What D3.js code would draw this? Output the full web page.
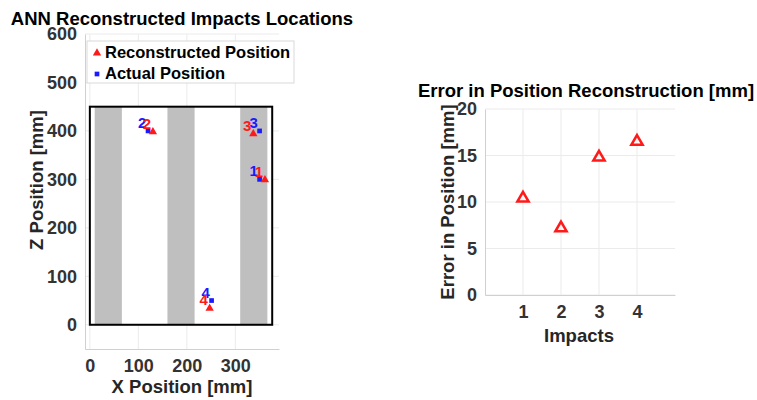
<!DOCTYPE html>
<html>
<head>
<meta charset="utf-8">
<script src="https://cdn.jsdelivr.net/npm/d3@7"></script>
<style>
  body { margin: 0; background: #fff; }
  svg { font-family: "Liberation Sans", Arial, sans-serif; font-weight: bold; }
  .tick text { fill: #333; font-size: 18px; font-weight: bold; }
</style>
</head>
<body>
<svg id="chart" width="757" height="400"></svg>
<script>
// impact data (mm)
const impacts = [1, 2, 3, 4];
const actualX = [350, 120, 350, 251];
const actualZ = [300, 400, 400, 50];
const reconX = [361, 130, 337, 247];
const reconZ = [299, 398, 394, 34];
const errors = [10.4, 7.2, 14.8, 16.5];
// plate outline and the grey strips on it
const plateX = [0, 376];
const plateZ = [0, 450];
const stripX = [[10, 66], [160, 216], [310, 366]];
const xTicksL = [0, 100, 200, 300];
const zTicks = [0, 100, 200, 300, 400, 500, 600];
const errTicks = [0, 5, 10, 15, 20];

const svg = d3.select('#chart');
const red = '#ff1a1a', blue = '#1a1aff', grid = '#ebebeb', axisCol = '#d0d0d0';

//---- left plot: impact locations
const xL = d3.scaleLinear().domain([-10, 390]).range([85, 279]);
const yL = d3.scaleLinear().domain([-50, 600]).range([349, 34]);

const gL = svg.append('g');
// grid
gL.selectAll('.gx').data(xTicksL).enter().append('line')
  .attr('x1', d => xL(d)).attr('x2', d => xL(d))
  .attr('y1', yL(-50)).attr('y2', yL(600))
  .attr('stroke', grid);
gL.selectAll('.gy').data(zTicks).enter().append('line')
  .attr('x1', xL(-10)).attr('x2', xL(390))
  .attr('y1', d => yL(d)).attr('y2', d => yL(d))
  .attr('stroke', grid);

// plate
gL.append('rect')
  .attr('x', xL(plateX[0])).attr('y', yL(plateZ[1]))
  .attr('width', xL(plateX[1]) - xL(plateX[0]))
  .attr('height', yL(plateZ[0]) - yL(plateZ[1]))
  .attr('fill', '#fff');
gL.selectAll('.strip').data(stripX).enter().append('rect')
  .attr('x', d => xL(d[0])).attr('y', yL(plateZ[1]))
  .attr('width', d => xL(d[1]) - xL(d[0]))
  .attr('height', yL(plateZ[0]) - yL(plateZ[1]))
  .attr('fill', '#bfbfbf');
gL.append('rect')
  .attr('x', xL(plateX[0])).attr('y', yL(plateZ[1]))
  .attr('width', xL(plateX[1]) - xL(plateX[0]))
  .attr('height', yL(plateZ[0]) - yL(plateZ[1]))
  .attr('fill', 'none').attr('stroke', '#000').attr('stroke-width', 2);

// axes
const axL = gL.append('g').attr('transform', `translate(0,${yL(-50)})`)
  .call(d3.axisBottom(xL).tickValues(xTicksL).tickSize(0).tickPadding(10));
const ayL = gL.append('g').attr('transform', `translate(${xL(-10)},0)`)
  .call(d3.axisLeft(yL).tickValues(zTicks).tickSize(0).tickPadding(8));
[axL, ayL].forEach(a => a.select('.domain').attr('stroke', axisCol));

// markers
const triSmall = d3.symbol(d3.symbolTriangle, 30);
const sqSmall = d3.symbol(d3.symbolSquare, 22);
gL.selectAll('.act').data(impacts).enter().append('path')
  .attr('d', sqSmall)
  .attr('transform', (d, i) => `translate(${xL(actualX[i])},${yL(actualZ[i])})`)
  .attr('fill', blue);
gL.selectAll('.rec').data(impacts).enter().append('path')
  .attr('d', triSmall)
  .attr('transform', (d, i) => `translate(${xL(reconX[i])},${yL(reconZ[i])})`)
  .attr('fill', red);
gL.selectAll('.actLbl').data(impacts).enter().append('text')
  .attr('x', (d, i) => xL(actualX[i]) - 6).attr('y', (d, i) => yL(actualZ[i]) - 3)
  .attr('text-anchor', 'middle').attr('font-size', 15).attr('fill', blue)
  .text(d => d);
gL.selectAll('.recLbl').data(impacts).enter().append('text')
  .attr('x', (d, i) => xL(reconX[i]) - 6).attr('y', (d, i) => yL(reconZ[i]) - 3)
  .attr('text-anchor', 'middle').attr('font-size', 15).attr('fill', red)
  .text(d => d);

// legend
const leg = gL.append('g');
leg.append('rect').attr('x', 87).attr('y', 41).attr('width', 207).attr('height', 42)
  .attr('fill', '#fff').attr('stroke', '#d9d9d9');
leg.append('path').attr('d', triSmall).attr('transform', 'translate(97,53)').attr('fill', red);
leg.append('path').attr('d', sqSmall).attr('transform', 'translate(97,74)').attr('fill', blue);
leg.append('text').attr('x', 105).attr('y', 58).attr('font-size', 16.5).attr('fill', '#000')
  .text('Reconstructed Position');
leg.append('text').attr('x', 105).attr('y', 79).attr('font-size', 16.5).attr('fill', '#000')
  .text('Actual Position');

// titles
gL.append('text').attr('x', 182).attr('y', 25).attr('text-anchor', 'middle')
  .attr('font-size', 18.5).attr('fill', '#000').text('ANN Reconstructed Impacts Locations');
gL.append('text').attr('x', 182).attr('y', 393).attr('text-anchor', 'middle')
  .attr('font-size', 18.5).attr('fill', '#262626').text('X Position [mm]');
gL.append('text').attr('transform', 'translate(43,180) rotate(-90)').attr('text-anchor', 'middle')
  .attr('font-size', 18.5).attr('fill', '#262626').text('Z Position [mm]');

//---- right plot: error
const xR = d3.scaleLinear().domain([0, 5]).range([485, 675]);
const yR = d3.scaleLinear().domain([0, 20]).range([295, 109]);
const gR = svg.append('g');
gR.selectAll('.gx').data(impacts).enter().append('line')
  .attr('x1', d => xR(d)).attr('x2', d => xR(d))
  .attr('y1', yR(0)).attr('y2', yR(20)).attr('stroke', grid);
gR.selectAll('.gy').data(errTicks).enter().append('line')
  .attr('x1', xR(0)).attr('x2', xR(5))
  .attr('y1', d => yR(d)).attr('y2', d => yR(d)).attr('stroke', grid);
const axR = gR.append('g').attr('transform', `translate(0,${yR(0)})`)
  .call(d3.axisBottom(xR).tickValues(impacts).tickFormat(d3.format('d')).tickSize(0).tickPadding(10));
const ayR = gR.append('g').attr('transform', `translate(${xR(0)},0)`)
  .call(d3.axisLeft(yR).tickValues(errTicks).tickSize(0).tickPadding(8));
[axR, ayR].forEach(a => a.select('.domain').attr('stroke', axisCol));

gR.selectAll('.err').data(errors).enter().append('path')
  .attr('d', d3.symbol(d3.symbolTriangle, 55))
  .attr('transform', (d, i) => `translate(${xR(impacts[i])},${yR(d)})`)
  .attr('fill', 'none').attr('stroke', red).attr('stroke-width', 2.5);

gR.append('text').attr('x', 586).attr('y', 97).attr('text-anchor', 'middle')
  .attr('font-size', 18.5).attr('fill', '#000').text('Error in Position Reconstruction [mm]');
gR.append('text').attr('x', 579).attr('y', 342).attr('text-anchor', 'middle')
  .attr('font-size', 18.5).attr('fill', '#262626').text('Impacts');
gR.append('text').attr('transform', 'translate(454,202) rotate(-90)').attr('text-anchor', 'middle')
  .attr('font-size', 18.5).attr('fill', '#262626').text('Error in Position [mm]');
</script>
</body>
</html>
